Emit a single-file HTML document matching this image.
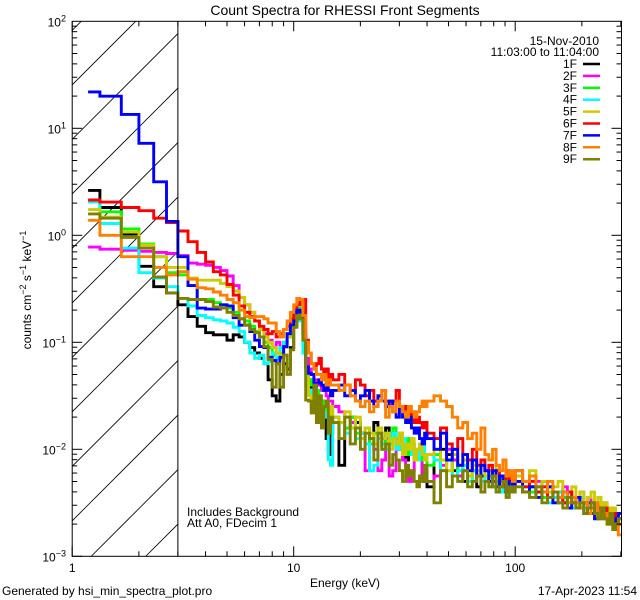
<!DOCTYPE html>
<html><head><meta charset="utf-8">
<style>
html,body{margin:0;padding:0;background:#fff;width:640px;height:600px;overflow:hidden;}
svg{display:block;font-family:"Liberation Sans",sans-serif;}
</style></head>
<body>
<svg id="chart" width="640" height="600" viewBox="0 0 640 600" xmlns="http://www.w3.org/2000/svg">
<rect x="0" y="0" width="640" height="600" fill="#fff"/>
<text x="345" y="15" font-size="14" text-anchor="middle">Count Spectra for RHESSI Front Segments</text>
<g id="hatch"></g>
<g id="series"></g>
<g id="axes"></g>
<text x="187" y="516" font-size="12">Includes Background</text>
<text x="187" y="527" font-size="12">Att A0, FDecim 1</text>
<text x="599" y="45" font-size="12" text-anchor="end">15-Nov-2010</text>
<text x="599" y="56" font-size="12" text-anchor="end">11:03:00 to 11:04:00</text>
<g id="legend"></g>
<text x="345" y="587" font-size="12" text-anchor="middle">Energy (keV)</text>
<text transform="translate(31,290) rotate(-90)" font-size="12" text-anchor="middle">counts cm<tspan dy="-5" font-size="9">−2</tspan><tspan dy="5"> s</tspan><tspan dy="-5" font-size="9">−1</tspan><tspan dy="5"> keV</tspan><tspan dy="-5" font-size="9">−1</tspan></text>
<text x="2" y="595" font-size="12">Generated by hsi_min_spectra_plot.pro</text>
<text x="637" y="595" font-size="12" text-anchor="end">17-Apr-2023 11:54</text>
</svg>
<script>
// Energy bin edges (keV)
const binEdges = [1.18];
for (let i = 4; i <= 45; i++) binEdges.push(i / 3);
for (let e = 16; e <= 40; e++) binEdges.push(e);
for (let e = 43; e <= 100; e += 3) binEdges.push(e);
for (let e = 108; e <= 300; e += 8) binEdges.push(e);

const seriesNames = ["1F","2F","3F","4F","5F","6F","7F","8F","9F"];
const seriesColors = ["#000000","#ff00ff","#00ff00","#00ffff","#cccc00","#ff0000","#0000ff","#ff8000","#808000"];
const xTickLabels = ["1","10","100"];
const xTickValues = [1,10,100];
const yTickExps = [2,1,0,-1,-2,-3];

// log10(counts cm^-2 s^-1 keV^-1) per bin
const s1F = [0.42,0.26,0.01,-0.29,-0.48,-0.54,-0.65,-0.76,-0.85,-0.91,-0.93,-0.93,-0.98,-0.93,-0.95,-1.0,-1.05,-1.1,-1.15,-1.2,-1.35,-1.5,-1.55,-1.3,-1.2,-1.25,-1.05,-0.85,-0.72,-0.78,-0.95,-1.2,-1.35,-1.42,-1.45,-1.5,-1.6,-1.55,-1.65,-1.9,-2.05,-1.85,
 -1.75,-2.15,-1.8,-1.7,-1.75,-1.85,-1.8,-1.9,-1.75,-1.85,-1.95,-1.8,-1.9,-1.85,-2.0,-1.9,-1.95,-2.1,-2.0,-1.95,-2.05,-2.1,-2.0,-2.25,-2.3,
 -2.35,-2.1,-2.0,-2.05,-2.2,-2.15,-2.3,-2.1,-2.2,-2.35,-2.25,-2.3,-2.2,-2.35,-2.3,-2.25,-2.4,-2.3,-2.35,-2.3,
 -2.2,-2.3,-2.35,-2.4,-2.3,-2.35,-2.45,-2.4,-2.5,-2.4,-2.45,-2.55,-2.45,-2.5,-2.55,-2.6,-2.5,-2.55,-2.6,-2.55,-2.6,-2.65,-2.6,-2.7,-2.65];
const s2F = [-0.11,-0.13,-0.14,-0.15,-0.16,-0.17,-0.19,-0.26,-0.27,-0.28,-0.3,-0.33,-0.38,-0.47,-0.58,-0.65,-0.72,-0.8,-0.88,-0.92,-0.98,-1.05,-1.0,-1.1,-1.0,-0.95,-0.88,-0.78,-0.7,-0.72,-0.85,-1.15,-1.25,-1.3,-1.35,-1.35,-1.4,-1.45,-1.45,-1.5,-1.55,-1.55,
 -1.6,-1.65,-1.7,-1.75,-1.8,-1.85,-2.2,-1.9,-2.0,-2.2,-2.1,-1.9,-2.25,-2.2,-2.0,-1.85,-2.1,-2.15,-2.3,-2.2,-2.05,-2.0,-2.1,-2.25,-2.2,
 -2.3,-2.25,-2.15,-2.0,-2.1,-2.25,-2.2,-2.1,-2.2,-2.25,-2.15,-2.2,-2.3,-2.25,-2.2,-2.3,-2.35,-2.25,-2.3,-2.35,
 -2.25,-2.3,-2.35,-2.3,-2.4,-2.35,-2.4,-2.45,-2.35,-2.4,-2.5,-2.45,-2.4,-2.5,-2.45,-2.55,-2.5,-2.55,-2.6,-2.5,-2.6,-2.55,-2.65,-2.6,-2.65];
const s3F = [0.32,0.22,0.06,-0.08,-0.2,-0.35,-0.37,-0.47,-0.6,-0.6,-0.63,-0.65,-0.68,-0.72,-0.78,-0.8,-0.85,-0.9,-0.95,-1.0,-1.05,-1.12,-1.15,-1.1,-1.0,-0.95,-0.85,-0.75,-0.68,-0.78,-1.0,-1.3,-1.35,-1.4,-1.5,-1.45,-1.6,-1.55,-1.6,-1.65,-1.7,-1.65,
 -1.7,-1.75,-1.8,-1.7,-1.85,-1.9,-1.8,-1.95,-1.85,-1.9,-2.0,-1.85,-1.95,-1.8,-1.9,-2.0,-1.95,-2.05,-1.9,-2.0,-2.1,-2.05,-2.0,-2.1,-2.05,
 -2.15,-2.05,-2.2,-2.1,-2.25,-2.15,-2.2,-2.3,-2.2,-2.25,-2.15,-2.3,-2.25,-2.35,-2.3,-2.25,-2.35,-2.3,-2.4,-2.35,
 -2.3,-2.35,-2.4,-2.35,-2.45,-2.4,-2.45,-2.5,-2.45,-2.5,-2.45,-2.55,-2.5,-2.6,-2.5,-2.55,-2.6,-2.55,-2.6,-2.65,-2.6,-2.65,-2.7,-2.6,-2.65];
const s4F = [0.31,0.11,-0.12,-0.35,-0.4,-0.48,-0.59,-0.66,-0.75,-0.77,-0.79,-0.8,-0.82,-0.86,-0.9,-1.0,-1.1,-1.15,-1.12,-1.2,-1.18,-1.1,-1.15,-1.05,-1.0,-0.92,-0.85,-0.8,-0.72,-0.8,-1.1,-1.4,-1.45,-1.5,-1.5,-1.55,-1.55,-1.6,-1.65,-1.7,-2.1,-2.15,
 -1.7,-1.75,-1.85,-1.8,-1.9,-1.85,-1.95,-2.2,-2.15,-1.9,-1.95,-2.0,-1.9,-1.85,-2.0,-1.95,-1.9,-2.0,-1.95,-2.05,-2.0,-2.1,-2.0,-1.95,-2.1,
 -2.05,-2.1,-2.2,-2.1,-2.25,-2.2,-2.15,-2.3,-2.2,-2.25,-2.3,-2.2,-2.35,-2.25,-2.3,-2.4,-2.3,-2.35,-2.3,-2.4,
 -2.3,-2.4,-2.35,-2.45,-2.4,-2.5,-2.45,-2.4,-2.5,-2.45,-2.55,-2.5,-2.45,-2.55,-2.6,-2.5,-2.6,-2.55,-2.65,-2.6,-2.55,-2.65,-2.6,-2.7,-2.65];
const s5F = [0.24,0.17,0.03,-0.09,-0.2,-0.3,-0.3,-0.4,-0.42,-0.42,-0.42,-0.45,-0.48,-0.52,-0.58,-0.65,-0.72,-0.8,-0.88,-0.95,-1.0,-1.05,-1.1,-1.15,-1.05,-0.95,-0.88,-0.8,-0.72,-0.75,-0.95,-1.25,-1.5,-1.6,-1.45,-1.55,-1.5,-1.65,-1.6,-1.55,-1.7,-1.6,
 -1.7,-1.75,-1.65,-1.8,-1.7,-1.9,-1.8,-1.85,-1.95,-1.8,-1.9,-1.85,-2.0,-1.9,-1.95,-1.85,-2.05,-1.95,-2.0,-1.9,-2.1,-2.0,-1.95,-2.05,-2.1,
 -2.05,-2.0,-2.1,-2.2,-2.05,-2.15,-2.1,-2.25,-2.15,-2.2,-2.1,-2.25,-2.2,-2.3,-2.15,-2.25,-2.3,-2.2,-2.3,-2.25,
 -2.25,-2.3,-2.2,-2.35,-2.3,-2.4,-2.35,-2.3,-2.4,-2.45,-2.35,-2.45,-2.4,-2.5,-2.45,-2.4,-2.5,-2.45,-2.55,-2.5,-2.55,-2.6,-2.55,-2.6,-2.6];
const s6F = [0.33,0.31,0.26,0.23,0.16,0.12,0.04,-0.06,-0.16,-0.25,-0.34,-0.37,-0.46,-0.56,-0.66,-0.72,-0.76,-0.8,-0.85,-0.88,-0.92,-0.9,-0.95,-0.92,-0.88,-0.85,-0.78,-0.72,-0.65,-0.6,-0.6,-0.98,-1.1,-1.2,-1.22,-1.2,-1.15,-1.25,-1.3,-1.25,-1.35,-1.3,
 -1.35,-1.3,-1.4,-1.45,-1.35,-1.4,-1.5,-1.45,-1.55,-1.5,-1.45,-1.55,-1.6,-1.55,-1.45,-1.6,-1.65,-1.6,-1.7,-1.65,-1.75,-1.7,-1.75,-1.8,-1.75,
 -1.85,-1.9,-1.8,-1.95,-2.0,-1.9,-2.05,-2.1,-2.0,-2.15,-2.1,-2.2,-2.15,-2.3,-2.2,-2.25,-2.35,-2.2,-2.3,-2.25,
 -2.3,-2.35,-2.3,-2.4,-2.35,-2.45,-2.4,-2.45,-2.5,-2.4,-2.5,-2.45,-2.55,-2.5,-2.55,-2.5,-2.6,-2.55,-2.6,-2.55,-2.65,-2.6,-2.65,-2.6,-2.7];
const s7F = [1.34,1.30,1.13,0.86,0.5,0.13,-0.2,-0.47,-0.68,-0.69,-0.69,-0.65,-0.66,-0.77,-0.84,-0.84,-0.9,-0.98,-1.04,-1.05,-1.14,-1.17,-1.2,-1.14,-1.04,-0.92,-0.84,-0.8,-0.7,-0.72,-0.92,-1.23,-1.29,-1.3,-1.42,-1.38,-1.35,-1.4,-1.45,-1.4,-1.45,-1.5,
 -1.45,-1.4,-1.5,-1.45,-1.55,-1.5,-1.45,-1.55,-1.6,-1.5,-1.55,-1.6,-1.55,-1.65,-1.7,-1.6,-1.7,-1.75,-1.7,-1.8,-1.85,-1.8,-1.9,-1.95,-1.85,
 -1.9,-2.0,-1.85,-2.1,-2.0,-2.15,-2.05,-2.2,-2.1,-2.25,-2.15,-2.2,-2.3,-2.2,-2.35,-2.25,-2.3,-2.4,-2.3,-2.35,
 -2.3,-2.4,-2.35,-2.45,-2.4,-2.35,-2.5,-2.45,-2.4,-2.55,-2.5,-2.45,-2.55,-2.6,-2.5,-2.55,-2.65,-2.6,-2.55,-2.6,-2.65,-2.6,-2.7,-2.65,-2.6];
const s8F = [0.14,0.0,-0.2,-0.2,-0.3,-0.37,-0.34,-0.41,-0.49,-0.5,-0.53,-0.56,-0.6,-0.63,-0.7,-0.76,-0.77,-0.76,-0.76,-0.78,-0.82,-0.82,-0.9,-0.95,-0.88,-0.8,-0.72,-0.65,-0.59,-0.6,-0.75,-1.0,-1.1,-1.2,-1.25,-1.3,-1.3,-1.35,-1.3,-1.4,-1.35,-1.4,
 -1.4,-1.45,-1.4,-1.5,-1.55,-1.6,-1.55,-1.65,-1.6,-1.55,-1.45,-1.7,-1.6,-1.65,-1.55,-1.6,-1.65,-1.7,-1.6,-1.65,-1.7,-1.65,-1.6,-1.55,-1.6,
 -1.55,-1.5,-1.55,-1.6,-1.7,-1.8,-1.75,-1.9,-1.85,-2.0,-1.8,-2.05,-2.1,-2.0,-2.15,-2.2,-2.1,-2.25,-2.2,-2.3,
 -2.2,-2.3,-2.25,-2.35,-2.4,-2.3,-2.4,-2.45,-2.4,-2.5,-2.45,-2.5,-2.55,-2.5,-2.6,-2.55,-2.5,-2.6,-2.65,-2.6,-2.7,-2.65,-2.75,-2.7,-2.8];
const s9F = [0.2,0.16,-0.02,-0.12,-0.39,-0.54,-0.59,-0.6,-0.6,-0.62,-0.67,-0.68,-0.72,-0.75,-0.78,-0.84,-0.88,-0.91,-0.95,-1.04,-1.16,-1.42,-1.2,-1.42,-1.12,-1.3,-1.07,-0.86,-0.75,-0.78,-0.98,-1.54,-1.55,-1.66,-1.4,-1.75,-1.5,-1.8,-1.6,-1.55,-1.85,-1.7,
 -1.75,-1.9,-1.7,-1.95,-1.8,-2.0,-1.85,-1.9,-2.1,-1.85,-2.0,-1.95,-2.15,-2.05,-2.1,-2.2,-2.3,-2.15,-2.25,-2.2,-2.3,-2.35,-2.25,-2.3,-2.15,
 -2.3,-2.5,-2.2,-2.35,-2.25,-2.3,-2.2,-2.35,-2.3,-2.25,-2.4,-2.3,-2.35,-2.25,-2.4,-2.35,-2.3,-2.45,-2.35,-2.4,
 -2.35,-2.4,-2.45,-2.35,-2.5,-2.45,-2.4,-2.5,-2.55,-2.45,-2.5,-2.55,-2.5,-2.6,-2.55,-2.5,-2.6,-2.65,-2.55,-2.65,-2.7,-2.6,-2.75,-2.7,-2.65];
const seriesData = [s1F,s2F,s3F,s4F,s5F,s6F,s7F,s8F,s9F];

const NS = "http://www.w3.org/2000/svg";
const X0 = 72.2, X1 = 621.5, Y0 = 21.3, Y1 = 556.3;
const xMinLog = 0, xMaxLog = Math.log10(302), yMinLog = -3, yMaxLog = 2;
function xs(e){ return X0 + (Math.log10(e) - xMinLog) / (xMaxLog - xMinLog) * (X1 - X0); }
function ys(l){ return Y1 - (l - yMinLog) / (yMaxLog - yMinLog) * (Y1 - Y0); }
function mk(tag, attrs, parent){ const el = document.createElementNS(NS, tag); for (const k in attrs) el.setAttribute(k, attrs[k]); parent.appendChild(el); return el; }

const svg = document.getElementById('chart');
const defs = mk('defs', {}, svg);
const cp = mk('clipPath', {id:'plotclip'}, defs);
mk('rect', {x:X0, y:Y0, width:X1-X0, height:Y1-Y0}, cp);
const hp = mk('clipPath', {id:'hatchclip'}, defs);
mk('rect', {x:X0, y:Y0, width:xs(3)-X0, height:Y1-Y0}, hp);

// hatch
const hatch = document.getElementById('hatch');
hatch.setAttribute('clip-path','url(#hatchclip)');
for (let k = -3; k < 16; k++) {
  const c = 157 + 54.5 * k;
  const ln = mk('line', {x1:0, y1:c, x2:c, y2:0, stroke:'#000', 'stroke-width':0.8}, hatch);
  
  
}
const thr = mk('line', {x1:xs(3), y1:Y0, x2:xs(3), y2:Y1, stroke:'#000', 'stroke-width':1}, svg.querySelector('#axes'));



// series
const sg = document.getElementById('series');
sg.setAttribute('clip-path','url(#plotclip)');
seriesData.forEach((vals, si) => {
  let pts = [];
  for (let i = 0; i < vals.length && i + 1 < binEdges.length; i++) {
    const y = ys(vals[i]);
    pts.push(xs(binEdges[i]).toFixed(1) + ',' + y.toFixed(1));
    pts.push(xs(binEdges[i+1]).toFixed(1) + ',' + y.toFixed(1));
  }
  const pl = mk('polyline', {points: pts.join(' '), fill:'none', stroke: seriesColors[si], 'stroke-width': 2.9, 'stroke-linejoin':'miter'}, sg);
  
  
});

// axes
const ax = document.getElementById('axes');
const frame = mk('rect', {x:X0, y:Y0, width:X1-X0, height:Y1-Y0, fill:'none', stroke:'#000', 'stroke-width':1}, ax);


for (let d = 0; d <= 2; d++) {
  for (let m = 1; m <= 9; m++) {
    const e = m * Math.pow(10, d);
    if (e > 302) continue;
    const x = xs(e), len = m === 1 ? 10 : 5;
    const t1 = mk('line', {x1:x, y1:Y1, x2:x, y2:Y1-len, stroke:'#000'}, ax);
    
    
    const t2 = mk('line', {x1:x, y1:Y0, x2:x, y2:Y0+len, stroke:'#000'}, ax);
    
    
  }
}
xTickValues.forEach((v, i) => {
  const t = mk('text', {x: xs(v), y: 572, 'font-size':12, 'text-anchor':'middle'}, ax);
  t.textContent = xTickLabels[i];
  
  
});
for (let d = -3; d < 2; d++) {
  for (let m = 1; m <= 9; m++) {
    const y = ys(d + Math.log10(m)), len = m === 1 ? 10 : 5;
    const t1 = mk('line', {x1:X0, y1:y, x2:X0+len, y2:y, stroke:'#000'}, ax);
    
    
    const t2 = mk('line', {x1:X1, y1:y, x2:X1-len, y2:y, stroke:'#000'}, ax);
    
    
  }
}
yTickExps.forEach(ex => {
  const y = ys(ex);
  const t = mk('text', {x: 66, y: y + 5, 'font-size':12, 'text-anchor':'end'}, ax);
  
  
  const a = document.createElementNS(NS, 'tspan'); a.textContent = '10'; t.appendChild(a);
  const b = document.createElementNS(NS, 'tspan'); b.setAttribute('dy', '-5'); b.setAttribute('font-size', '9');
  b.textContent = ex < 0 ? '−' + (-ex) : String(ex); t.appendChild(b);
});

// legend
const lg = document.getElementById('legend');
seriesNames.forEach((n, i) => {
  const y = 64 + i * 11.9;
  const t = mk('text', {x: 577, y: y + 4, 'font-size':12, 'text-anchor':'end'}, lg);
  t.textContent = n;
  
  
  const l = mk('line', {x1:583, y1:y, x2:600, y2:y, stroke: seriesColors[i], 'stroke-width': 2.5}, lg);
  
  
});
</script>
</body></html>
